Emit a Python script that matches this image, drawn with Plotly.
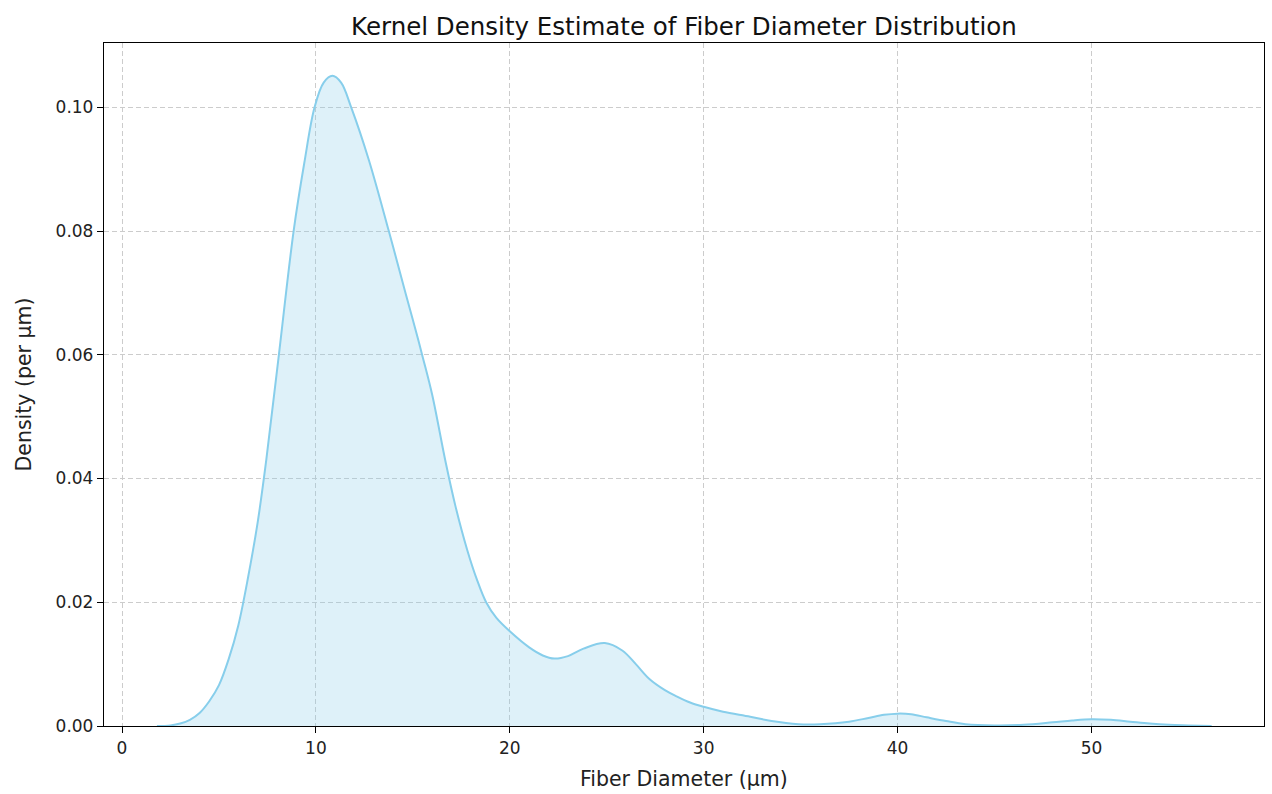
import plotly.graph_objects as go

# Estimated density curve of fiber diameter (µm -> density per µm)
diameter_um = [1.8, 2.5, 3.0, 3.5, 4.0, 4.5, 5.0, 5.5, 6.0, 6.5, 7.0, 7.44, 8.09, 8.85,
               9.4, 9.93, 10.4, 10.85, 11.3, 11.82, 12.73, 13.76, 14.62, 15.1, 15.52,
               16.0, 16.7, 17.2, 17.8, 18.3, 18.78, 19.3, 20.0, 21.0, 21.7, 22.3, 23.0,
               23.8, 24.9, 25.8, 26.5, 27.2, 28.0, 28.6, 29.3, 30.0, 31.0, 32.4, 33.5,
               34.9, 36.0, 37.5, 38.5, 39.3, 40.0, 40.7, 41.5, 42.5, 43.5, 45.0, 46.5,
               48.0, 49.0, 50.0, 51.0, 52.0, 53.0, 54.0, 55.0, 56.2]
density = [0.0000, 0.0001, 0.0004, 0.0010, 0.0021, 0.0040, 0.0066, 0.0108, 0.0163,
           0.0240, 0.0330, 0.0430, 0.0600, 0.0800, 0.0910, 0.1000, 0.1040, 0.1051,
           0.1040, 0.1000, 0.0915, 0.0800, 0.0700, 0.0645, 0.0595, 0.0535, 0.0425,
           0.0355, 0.0285, 0.0237, 0.0200, 0.0175, 0.0153, 0.0127, 0.0114, 0.0109,
           0.0113, 0.0125, 0.0134, 0.0122, 0.0100, 0.0076, 0.0058, 0.0048, 0.0038,
           0.0031, 0.0023, 0.0015, 0.0008, 0.0003, 0.0003, 0.0007, 0.0013, 0.0018,
           0.0020, 0.0019, 0.0014, 0.0008, 0.0003, 0.0001, 0.0002, 0.0006, 0.0009,
           0.0011, 0.0010, 0.0007, 0.0004, 0.0002, 0.0001, 0.0000]

x_ticks = [0, 10, 20, 30, 40, 50]
y_ticks = [0.00, 0.02, 0.04, 0.06, 0.08, 0.10]

FONT = "DejaVu Sans"
W, H = 1272, 794
L, R, T, B = 104, 8, 43, 68

fig = go.Figure()
fig.add_trace(go.Scatter(
    x=diameter_um, y=density, mode="lines",
    line=dict(color="#87CEEB", width=2, shape="spline", smoothing=1.0),
    fill="tozeroy", fillcolor="rgba(135,206,235,0.28)",
    showlegend=False, hoverinfo="skip",
))

axis_common = dict(
    showline=True, linecolor="black", linewidth=1.3, mirror=True,
    ticks="outside", ticklen=6, tickwidth=1.3, tickcolor="black",
    showgrid=True, gridcolor="#cccccc", gridwidth=1, griddash="5px,3px",
    zeroline=False,
    tickfont=dict(family=FONT, size=17, color="#222222"),
)

fig.update_layout(
    width=W, height=H,
    margin=dict(l=L, r=R, t=T, b=B, autoexpand=False),
    paper_bgcolor="white", plot_bgcolor="white",
    font=dict(family=FONT, color="#222222"),
    title=dict(text="Kernel Density Estimate of Fiber Diameter Distribution",
               x=0.5, xref="paper", xanchor="center",
               y=1 - 26 / H, yref="container", yanchor="middle",
               font=dict(family=FONT, size=24.5, color="#111111")),
    xaxis=dict(axis_common, range=[-0.93, 58.9], tickvals=x_ticks,
               ticktext=[str(v) for v in x_ticks]),
    yaxis=dict(axis_common, range=[0, 0.1104], tickvals=y_ticks,
               ticktext=[f"{v:.2f}" for v in y_ticks]),
)

plot_h = H - T - B
plot_w = W - L - R
fig.add_annotation(text="Fiber Diameter (µm)", xref="paper", yref="paper",
                   x=0.5, y=-(779 - (H - B)) / plot_h, xanchor="center", yanchor="middle",
                   showarrow=False, font=dict(family=FONT, size=20.5, color="#222222"))
fig.add_annotation(text="Density (per µm)", xref="paper", yref="paper",
                   x=-(L - 23) / plot_w, y=0.5, xanchor="center", yanchor="middle",
                   textangle=-90, showarrow=False,
                   font=dict(family=FONT, size=20.5, color="#222222"))

fig.write_html("out.html")
